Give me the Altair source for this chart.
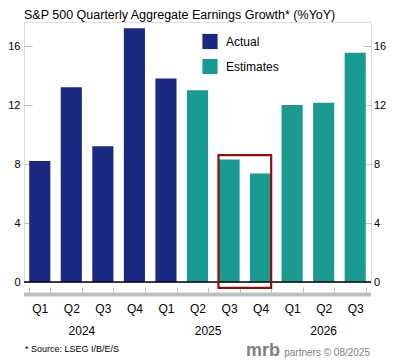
import altair as alt
import pandas as pd

FONT = "Liberation Sans"

quarters = ["Q1", "Q2", "Q3", "Q4", "Q1", "Q2", "Q3", "Q4", "Q1", "Q2", "Q3"]
years = ["2024", "2024", "2024", "2024", "2025", "2025", "2025", "2025", "2026", "2026", "2026"]
growth = [8.2, 13.2, 9.2, 17.2, 13.8, 13.0, 8.3, 7.35, 12.0, 12.15, 15.55]
kind = ["Actual"] * 5 + ["Estimates"] * 6

series_names = ["Actual", "Estimates"]
series_colors = ["#1b2a80", "#1b9a91"]

y_ticks = [0, 4, 8, 12, 16]
y_max = 17.63

year_labels_a = ["2024", "2025"]
year_anchor_a = ["2024 Q2", "2025 Q2"]
year_labels_b = ["2026"]
year_anchor_b = ["2026 Q2"]

box_from = "2025 Q3"
box_to = "2025 Q4"
box_top = 8.6
box_bottom = -0.4

title_text = "S&P 500 Quarterly Aggregate Earnings Growth* (%YoY)"
source_text = "* Source: LSEG I/B/E/S"
brand_text = "mrb"
brand_rest = "partners \u00a9 08/2025"

keys = [f"{y} {q}" for y, q in zip(years, quarters)]
df = pd.DataFrame({"key": keys, "value": growth, "type": kind})

W, H = 347, 260

xscale = alt.Scale(domain=keys, paddingInner=0.33, paddingOuter=0.165)
yscale = alt.Scale(domain=[0, y_max], nice=False, zero=False)

x_axis = alt.Axis(labelExpr="split(datum.value, ' ')[1]", domain=False,
                  tickBand="extent", tickColor="#c0c0c0", tickSize=5.5,
                  tickWidth=1, offset=5, labelPadding=10.5, labelAngle=0,
                  labelFontSize=12, labelColor="#000000", labelFont=FONT,
                  grid=False, title=None)

bars = alt.Chart(df).mark_bar().encode(
    x=alt.X("key:N", scale=xscale, sort=keys, axis=x_axis),
    y=alt.Y("value:Q", scale=yscale,
            axis=alt.Axis(values=y_ticks, orient="left", domain=False, grid=False,
                          tickColor="#c0c0c0", tickSize=8, offset=-8, tickWidth=1,
                          labelPadding=4, labelFontSize=11, labelColor="#000000",
                          labelFont=FONT, title=None)),
    color=alt.Color("type:N",
                    scale=alt.Scale(domain=series_names, range=series_colors),
                    legend=alt.Legend(title=None, orient="none", legendX=178, legendY=11.5,
                                      symbolType="square", symbolSize=230,
                                      symbolStrokeWidth=0, symbolOpacity=1,
                                      labelFontSize=12, labelFont=FONT,
                                      labelColor="#000000", labelOffset=8,
                                      rowPadding=9, padding=0)),
)

right_axis = alt.Chart(df).mark_bar(opacity=0).encode(
    x=alt.X("key:N", scale=xscale, sort=keys, axis=x_axis),
    y=alt.Y("value:Q", scale=yscale,
            axis=alt.Axis(values=y_ticks, orient="right", domain=False, grid=False,
                          tickColor="#c0c0c0", tickSize=8, offset=-8, tickWidth=1,
                          labelPadding=2.5, labelFontSize=11, labelColor="#000000",
                          labelFont=FONT, title=None)),
)

zero_line = alt.Chart(pd.DataFrame({"v": [0]})).mark_rule(color="#000000", strokeWidth=1.3).encode(
    y=alt.Y("v:Q", scale=yscale, axis=None), x=alt.value(0), x2=alt.value(W)
)

gray_bar = alt.Chart(pd.DataFrame({"v": [0]})).mark_rule(color="#c0c0c0", strokeWidth=4).encode(
    x=alt.value(0), x2=alt.value(W), y=alt.value(H + 12.4)
)

box_df = pd.DataFrame({"a": [box_from], "b": [box_to], "top": [box_top], "bot": [box_bottom]})
box = alt.Chart(box_df).mark_rect(fill=None, stroke="#8b1010", strokeWidth=2.2, clip=False).encode(
    x=alt.X("a:N", scale=xscale, bandPosition=0, axis=x_axis),
    x2=alt.X2("b:N", bandPosition=1),
    y=alt.Y("top:Q", scale=yscale, axis=None),
    y2=alt.Y2("bot:Q"),
)

ya = alt.Chart(pd.DataFrame({"label": year_labels_a, "k": year_anchor_a})).mark_text(
    fontSize=12, font=FONT, color="#000000", baseline="middle", align="center").encode(
    x=alt.X("k:N", scale=xscale, bandPosition=1, axis=x_axis), y=alt.value(H + 49), text="label:N")
yb = alt.Chart(pd.DataFrame({"label": year_labels_b, "k": year_anchor_b})).mark_text(
    fontSize=12, font=FONT, color="#000000", baseline="middle", align="center").encode(
    x=alt.X("k:N", scale=xscale, bandPosition=0.5, axis=x_axis), y=alt.value(H + 49), text="label:N")

src = alt.Chart(pd.DataFrame({"t": [source_text]})).mark_text(
    fontSize=9, font=FONT, color="#000000", align="left", baseline="middle").encode(
    x=alt.value(1), y=alt.value(H + 67), text="t:N")
brand = alt.Chart(pd.DataFrame({"t": [brand_text]})).mark_text(
    fontSize=18, font=FONT, fontWeight="bold", color="#808080", align="right",
    baseline="alphabetic").encode(
    x=alt.value(256), y=alt.value(H + 74), text="t:N")
brand2 = alt.Chart(pd.DataFrame({"t": [brand_rest]})).mark_text(
    fontSize=10, font=FONT, color="#808080", align="right", baseline="alphabetic").encode(
    x=alt.value(346), y=alt.value(H + 74), text="t:N")

chart = alt.layer(bars, right_axis, zero_line, gray_bar, box, ya, yb, src, brand, brand2).resolve_axis(
    y="independent"
).properties(
    width=W, height=H,
    autosize=alt.AutoSizeParams(type="none"),
    padding={"left": 16, "top": 14, "right": 15, "bottom": 78},
    title=alt.TitleParams(title_text, anchor="start", frame="group", fontSize=12.5,
                          font=FONT, fontWeight="normal", color="#000000", offset=1),
).configure_view(stroke=None).configure(background="#ffffff")

chart.save("out.html", embed_options={"renderer": "svg", "actions": False})
